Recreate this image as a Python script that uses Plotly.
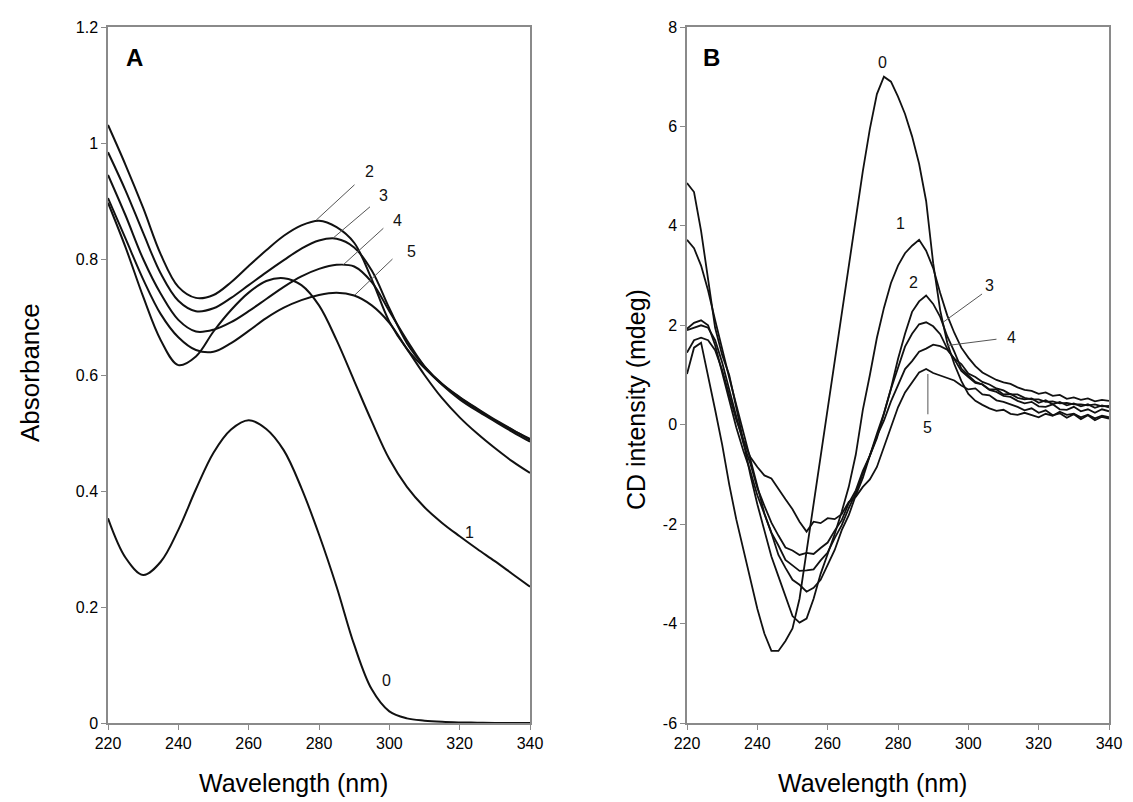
import plotly.graph_objects as go

# ---------------- Panel A: absorbance ----------------
wl_a = [220, 225, 230, 235, 240, 245, 250, 255, 260, 265, 270, 275, 280,
        285, 290, 295, 300, 305, 310, 315, 320, 325, 330, 335, 340]
abs_0 = [0.353, 0.285, 0.255, 0.278, 0.333, 0.403, 0.466, 0.506, 0.522, 0.507, 0.470, 0.405, 0.325,
         0.235, 0.135, 0.058, 0.020, 0.008, 0.004, 0.002, 0.001, 0.0005, 0.0, 0.0, 0.0]
abs_1 = [0.897, 0.820, 0.735, 0.660, 0.617, 0.632, 0.675, 0.712, 0.742, 0.762, 0.767, 0.755, 0.720,
         0.660, 0.590, 0.520, 0.455, 0.407, 0.372, 0.345, 0.322, 0.300, 0.279, 0.257, 0.235]
abs_2 = [1.031, 0.962, 0.888, 0.808, 0.752, 0.733, 0.738, 0.760, 0.788, 0.815, 0.840, 0.858, 0.866,
         0.855, 0.828, 0.765, 0.692, 0.645, 0.612, 0.584, 0.561, 0.541, 0.522, 0.505, 0.490]
abs_3 = [0.984, 0.918, 0.845, 0.775, 0.728, 0.710, 0.715, 0.733, 0.755, 0.777, 0.798, 0.818, 0.832,
         0.835, 0.820, 0.780, 0.715, 0.655, 0.615, 0.585, 0.562, 0.542, 0.523, 0.506, 0.488]
abs_4 = [0.945, 0.875, 0.800, 0.740, 0.695, 0.675, 0.678, 0.691, 0.710, 0.731, 0.752, 0.770, 0.783,
         0.790, 0.787, 0.760, 0.710, 0.660, 0.615, 0.583, 0.558, 0.538, 0.520, 0.502, 0.485]
abs_5 = [0.905, 0.835, 0.765, 0.705, 0.665, 0.643, 0.640, 0.655, 0.676, 0.698, 0.716, 0.729, 0.738,
         0.742, 0.737, 0.720, 0.690, 0.645, 0.600, 0.560, 0.527, 0.499, 0.474, 0.451, 0.431]
abs_series = [abs_0, abs_1, abs_2, abs_3, abs_4, abs_5]
abs_ticks = [0, 0.2, 0.4, 0.6, 0.8, 1.0, 1.2]
abs_ticktext = ["0", "0.2", "0.4", "0.6", "0.8", "1", "1.2"]

# ---------------- Panel B: CD ----------------
wl_b = list(range(220, 342, 2))
cd_0 = [1.02, 1.55, 1.65, 1.00, 0.30, -0.40, -1.20, -1.90, -2.50, -3.10, -3.70, -4.20, -4.55, -4.55,
        -4.35, -4.10, -3.50, -2.55, -1.60, -0.65, 0.35, 1.35, 2.30, 3.25, 4.20, 5.10, 5.95, 6.65,
        7.00, 6.90, 6.60, 6.25, 5.80, 5.25, 4.50, 3.25, 2.30, 1.65, 1.22, 0.88, 0.62, 0.48, 0.40,
        0.33, 0.28, 0.30, 0.22, 0.20, 0.24, 0.20, 0.15, 0.22, 0.18, 0.26, 0.20, 0.22, 0.15, 0.20,
        0.13, 0.18, 0.15]
cd_1 = [4.86, 4.68, 3.90, 2.90, 1.95, 1.40, 1.00, 0.35, -0.35, -1.00, -1.60, -2.15, -2.65, -3.05,
        -3.45, -3.85, -3.98, -3.90, -3.50, -3.00, -2.60, -2.20, -1.75, -1.25, -0.60, 0.30, 1.00,
        1.75, 2.35, 2.85, 3.20, 3.45, 3.60, 3.72, 3.50, 3.15, 2.65, 2.20, 1.85, 1.55, 1.35, 1.18,
        1.05, 0.97, 0.90, 0.85, 0.82, 0.75, 0.70, 0.68, 0.62, 0.65, 0.58, 0.60, 0.52, 0.55, 0.50,
        0.53, 0.47, 0.50, 0.48]
cd_2 = [3.72, 3.55, 3.20, 2.70, 2.10, 1.50, 0.95, 0.40, -0.15, -0.72, -1.22, -1.78, -2.18, -2.62,
        -2.88, -3.12, -3.22, -3.36, -3.28, -3.12, -2.82, -2.52, -2.12, -1.82, -1.42, -1.07, -0.62,
        -0.27, 0.22, 0.73, 1.32, 1.83, 2.27, 2.48, 2.60, 2.43, 2.17, 1.78, 1.47, 1.13, 0.99, 0.86,
        0.81, 0.70, 0.66, 0.58, 0.56, 0.48, 0.43, 0.46, 0.37, 0.36, 0.41, 0.31, 0.30, 0.36, 0.27,
        0.31, 0.24, 0.31, 0.27]
cd_3 = [1.93, 2.05, 2.10, 2.00, 1.60, 1.05, 0.50, -0.05, -0.52, -0.93, -1.42, -1.78, -2.17, -2.43,
        -2.72, -2.83, -2.94, -2.93, -2.91, -2.73, -2.57, -2.28, -2.02, -1.68, -1.37, -0.98, -0.62,
        -0.18, 0.23, 0.72, 1.13, 1.57, 1.83, 2.02, 2.06, 1.98, 1.82, 1.53, 1.32, 1.08, 0.96, 0.84,
        0.81, 0.71, 0.71, 0.61, 0.62, 0.54, 0.51, 0.53, 0.44, 0.49, 0.41, 0.46, 0.39, 0.43, 0.37,
        0.41, 0.34, 0.39, 0.35]
cd_4 = [1.90, 1.95, 2.00, 1.95, 1.70, 1.25, 0.70, 0.15, -0.37, -0.78, -1.27, -1.63, -1.97, -2.23,
        -2.47, -2.53, -2.62, -2.58, -2.60, -2.48, -2.37, -2.13, -1.92, -1.58, -1.32, -0.93, -0.62,
        -0.23, 0.08, 0.47, 0.78, 1.12, 1.28, 1.47, 1.53, 1.61, 1.58, 1.51, 1.33, 1.22, 1.03, 0.96,
        0.86, 0.81, 0.73, 0.69, 0.61, 0.61, 0.54, 0.51, 0.51, 0.46, 0.47, 0.43, 0.44, 0.41, 0.41,
        0.39, 0.41, 0.37, 0.38]
cd_5 = [1.45, 1.70, 1.75, 1.70, 1.50, 1.10, 0.60, 0.10, -0.30, -0.65, -0.85, -1.02, -1.08, -1.30,
        -1.50, -1.70, -1.95, -2.15, -1.95, -1.98, -1.88, -1.90, -1.80, -1.55, -1.45, -1.25, -1.10,
        -0.85, -0.45, -0.05, 0.35, 0.65, 0.85, 1.05, 1.12, 1.04, 0.99, 0.94, 0.89, 0.79, 0.71, 0.73,
        0.61, 0.59, 0.49, 0.46, 0.41, 0.36, 0.29, 0.33, 0.24, 0.29, 0.19, 0.23, 0.14, 0.21, 0.11,
        0.19, 0.09, 0.16, 0.12]
cd_series = [cd_0, cd_1, cd_2, cd_3, cd_4, cd_5]
cd_ticks = [-6, -4, -2, 0, 2, 4, 6, 8]
cd_ticktext = ["-6", "-4", "-2", "0", "2", "4", "6", "8"]
wl_ticks = [220, 240, 260, 280, 300, 320, 340]

FONT = "Liberation Sans, Arial, Helvetica, sans-serif"
AXIS_GRAY = "#8a8a8a"
LINE = "#111111"

fig = go.Figure()
for s in abs_series:
    fig.add_trace(go.Scatter(x=wl_a, y=s, mode="lines", line=dict(color=LINE, width=2, shape="spline"),
                             xaxis="x", yaxis="y", showlegend=False, hoverinfo="skip"))
for s in cd_series:
    fig.add_trace(go.Scatter(x=wl_b, y=s, mode="lines", line=dict(color=LINE, width=1.8),
                             xaxis="x2", yaxis="y2", showlegend=False, hoverinfo="skip"))

# leader lines (curve point -> label)
leaders_a = [((279.2, 0.867), (290.1, 0.928)), ((284.0, 0.836), (294.5, 0.890)),
             ((286.9, 0.790), (298.3, 0.853)), ((290.2, 0.738), (300.9, 0.800))]
for (p0, p1) in leaders_a:
    fig.add_trace(go.Scatter(x=[p0[0], p1[0]], y=[p0[1], p1[1]], mode="lines",
                             line=dict(color="#555555", width=1), xaxis="x", yaxis="y",
                             showlegend=False, hoverinfo="skip"))
leaders_b = [((292.8, 2.06), (303.9, 2.63)), ((293.7, 1.59), (308.0, 1.72)), ((288.5, 1.02), (288.5, 0.21))]
for (p0, p1) in leaders_b:
    fig.add_trace(go.Scatter(x=[p0[0], p1[0]], y=[p0[1], p1[1]], mode="lines",
                             line=dict(color="#555555", width=1), xaxis="x2", yaxis="y2",
                             showlegend=False, hoverinfo="skip"))

ann = []
labels_a = [("0", 299.3, 0.074), ("1", 322.9, 0.328), ("2", 294.4, 0.950), ("3", 298.4, 0.910),
            ("4", 302.4, 0.867), ("5", 306.4, 0.813)]
for t, x, y in labels_a:
    ann.append(dict(text=t, x=x, y=y, xref="x", yref="y", showarrow=False, xanchor="center",
                    yanchor="middle", font=dict(family=FONT, size=16, color="#111")))
labels_b = [("0", 275.7, 7.29), ("1", 280.7, 4.04), ("2", 284.5, 2.86), ("3", 306.0, 2.80),
            ("4", 312.2, 1.76), ("5", 288.5, -0.05)]
for t, x, y in labels_b:
    ann.append(dict(text=t, x=x, y=y, xref="x2", yref="y2", showarrow=False, xanchor="center",
                    yanchor="middle", font=dict(family=FONT, size=16, color="#111")))

# page offset of the plot div (default body margin)
OFF = 8
W, H = 1125, 794
def px(xp):
    return (xp - OFF) / W
def py(yp):
    return 1 - (yp - OFF) / H

def paper_text(text, x, y, size, angle=0):
    return dict(text=text, x=px(x), y=py(y), xref="paper", yref="paper", showarrow=False,
                xanchor="center", yanchor="middle", textangle=angle,
                font=dict(family=FONT, size=size, color="#000"))

ann.append(paper_text("<b>A</b>", 134, 58, 24))
ann.append(paper_text("<b>B</b>", 711, 58, 24))
ann.append(paper_text("Wavelength (nm)", 293, 783, 25))
ann.append(paper_text("Wavelength (nm)", 872, 783, 25))
ann.append(paper_text("Absorbance", 30, 373, 26, -90))
ann.append(paper_text("CD intensity (mdeg)", 636, 400, 25, -90))

axis_common = dict(showline=True, linecolor=AXIS_GRAY, linewidth=1.5, mirror=True, showgrid=False,
                   zeroline=False, ticks="outside", ticklen=5, tickcolor=AXIS_GRAY, tickwidth=1,
                   tickfont=dict(family=FONT, size=16, color="#000"), automargin=False)

fig.update_layout(
    width=W, height=H, margin=dict(l=0, r=0, t=0, b=0),
    paper_bgcolor="white", plot_bgcolor="white",
    xaxis=dict(domain=[px(108), px(530)], range=[220, 340], tickvals=wl_ticks, anchor="y", **axis_common),
    yaxis=dict(domain=[py(723), py(27)], range=[0, 1.2], tickvals=abs_ticks, ticktext=abs_ticktext,
               anchor="x", **axis_common),
    xaxis2=dict(domain=[px(687), px(1109)], range=[220, 340], tickvals=wl_ticks, anchor="y2", **axis_common),
    yaxis2=dict(domain=[py(723), py(27)], range=[-6, 8], tickvals=cd_ticks, ticktext=cd_ticktext,
                anchor="x2", **axis_common),
    annotations=ann,
)

fig.write_html("out.html")
